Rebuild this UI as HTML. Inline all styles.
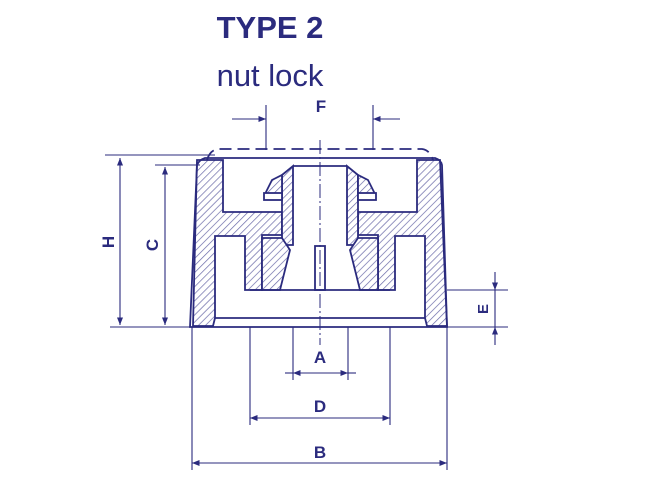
<!DOCTYPE html>
<html><head><meta charset="utf-8"><style>
html,body{margin:0;padding:0;background:#fff;}
svg{display:block;}
text{font-family:"Liberation Sans",Arial,sans-serif;fill:#2b2b7e;}
</style></head><body>
<svg width="650" height="487" viewBox="0 0 650 487" xmlns="http://www.w3.org/2000/svg">
<defs>
<pattern id="h" width="5" height="5" patternUnits="userSpaceOnUse" patternTransform="rotate(45)">
<rect width="5" height="5" fill="#fff"/><line x1="0" y1="0" x2="0" y2="5" stroke="#6a6aa8" stroke-width="1.4"/>
</pattern>
<marker id="a" viewBox="0 0 10 10" refX="10" refY="5" markerWidth="7" markerHeight="7" orient="auto-start-reverse">
<path d="M0,1 L10,5 L0,9 z" fill="#2b2b7e"/></marker>
</defs>
<text x="270" y="38" font-size="31" font-weight="bold" text-anchor="middle">TYPE 2</text>
<text x="270" y="86" font-size="31" text-anchor="middle">nut lock</text>
<g stroke="#2b2b7e" fill="none" stroke-width="1.8">
<!-- left hatched -->
<path d="M197,160 L223,160 L223,212 L282,212 L282,235 L262,235 L262,290 L245,290 L245,236 L215,236 L215,318 L213,326 L193,326 Z" fill="url(#h)"/>
<path d="M440,160 L417,160 L417,212 L358,212 L358,235 L378,235 L378,290 L395,290 L395,236 L425,236 L425,318 L427,326 L447,326 Z" fill="url(#h)"/>
<!-- collet -->
<path d="M282,175 L293,166 L293,245 L282,245 Z" fill="url(#h)"/>
<path d="M358,175 L347,166 L347,245 L358,245 Z" fill="url(#h)"/>
<path d="M266,192 L272,180 L282,175 L282,198 L266,198 Z" fill="url(#h)"/>
<path d="M374,192 L368,180 L358,175 L358,198 L374,198 Z" fill="url(#h)"/>
<rect x="264" y="193" width="18" height="7" fill="#fff"/>
<rect x="358" y="193" width="18" height="7" fill="#fff"/>
<path d="M262,238 L282,238 L290,250 L280,290 L262,290 Z" fill="url(#h)"/>
<path d="M378,238 L358,238 L350,250 L360,290 L378,290 Z" fill="url(#h)"/>
<rect x="315" y="246" width="10" height="44" fill="#fff"/>
<line x1="293" y1="166" x2="347" y2="166"/>
<!-- outer body -->
<path d="M190,327 L197,165 Q199,160 205,158 L435,158 Q441,160 442,165 L447,327 Z"/>
<line x1="215" y1="318" x2="425" y2="318"/>
<line x1="250" y1="290" x2="390" y2="290"/>
<path d="M207,160 Q210,150 218,149 L422,149 Q430,150 433,160" stroke-dasharray="12,6"/>
<line x1="320" y1="140" x2="320" y2="345" stroke-width="1" stroke-dasharray="14,3,2,3"/>
</g>
<g stroke="#2b2b7e" fill="none" stroke-width="1.1">
<line x1="266" y1="105" x2="266" y2="150"/><line x1="373" y1="105" x2="373" y2="150"/>
<line x1="232" y1="119" x2="266" y2="119" marker-end="url(#a)"/>
<line x1="400" y1="119" x2="373" y2="119" marker-end="url(#a)"/>
<line x1="105" y1="155" x2="215" y2="155"/><line x1="155" y1="165" x2="200" y2="165"/>
<line x1="110" y1="327" x2="190" y2="327"/>
<line x1="120" y1="158" x2="120" y2="325" marker-start="url(#a)" marker-end="url(#a)"/>
<line x1="165" y1="167" x2="165" y2="325" marker-start="url(#a)" marker-end="url(#a)"/>
<line x1="447" y1="290" x2="508" y2="290"/><line x1="447" y1="327" x2="508" y2="327"/>
<line x1="495" y1="272" x2="495" y2="290" marker-end="url(#a)"/>
<line x1="495" y1="345" x2="495" y2="327" marker-end="url(#a)"/>
<line x1="495" y1="290" x2="495" y2="327"/>
<line x1="293" y1="327" x2="293" y2="380"/><line x1="348" y1="327" x2="348" y2="380"/>
<line x1="285" y1="373" x2="293" y2="373"/><line x1="293" y1="373" x2="348" y2="373" marker-start="url(#a)" marker-end="url(#a)"/><line x1="348" y1="373" x2="356" y2="373"/>
<line x1="250" y1="327" x2="250" y2="425"/><line x1="390" y1="327" x2="390" y2="425"/>
<line x1="250" y1="418" x2="390" y2="418" marker-start="url(#a)" marker-end="url(#a)"/>
<line x1="192" y1="327" x2="192" y2="470"/><line x1="447" y1="327" x2="447" y2="470"/>
<line x1="192" y1="463" x2="447" y2="463" marker-start="url(#a)" marker-end="url(#a)"/>
</g>
<text x="321" y="112" font-size="17" font-weight="bold" text-anchor="middle">F</text>
<text x="320" y="363" font-size="17" font-weight="bold" text-anchor="middle">A</text>
<text x="320" y="412" font-size="17" font-weight="bold" text-anchor="middle">D</text>
<text x="320" y="458" font-size="17" font-weight="bold" text-anchor="middle">B</text>
<text x="0" y="0" font-size="17" font-weight="bold" text-anchor="middle" transform="translate(114,242) rotate(-90)">H</text>
<text x="0" y="0" font-size="17" font-weight="bold" text-anchor="middle" transform="translate(158,245) rotate(-90)">C</text>
<text x="0" y="0" font-size="15" font-weight="bold" text-anchor="middle" transform="translate(488,309) rotate(-90)">E</text>
</svg>
</body></html>
